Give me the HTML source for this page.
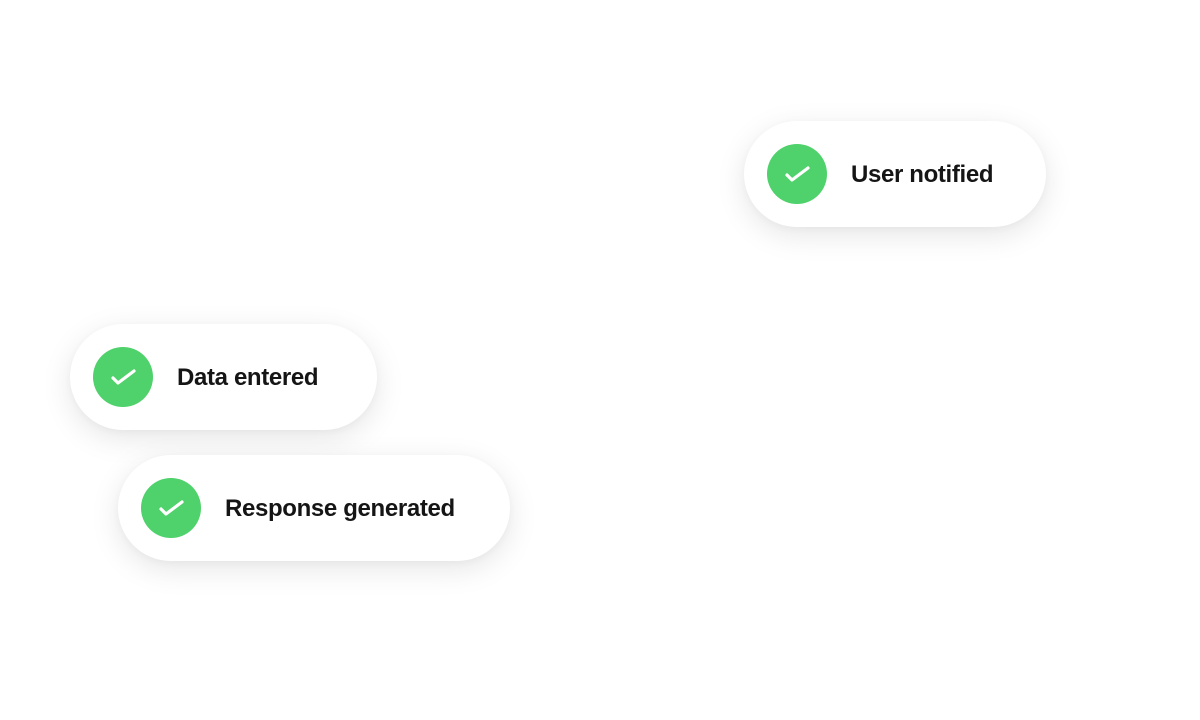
<!DOCTYPE html>
<html><head><style>
html,body{margin:0;padding:0;width:1200px;height:720px;background:#fff;overflow:hidden}
.pill{position:absolute;height:106px;border-radius:53px;background:#fff;box-shadow:0 8px 30px rgba(0,0,0,0.10),0 2px 8px rgba(0,0,0,0.03)}
.c{position:absolute;left:23px;top:23px;width:60px;height:60px;border-radius:50%;background:#4fd16b}
.c svg{position:absolute;left:0;top:0}
.t{position:absolute;left:107px;top:1px;line-height:106px;font-family:"Liberation Sans",sans-serif;font-weight:bold;font-size:24px;color:#151515;letter-spacing:-0.35px;white-space:nowrap}
</style></head><body>
<div class="pill" style="left:744px;top:121px;width:302px">
<div class="c"><svg width="60" height="60"><polyline points="20,31 25,36 41,24" fill="none" stroke="#fff" stroke-width="3.2" stroke-linecap="round" stroke-linejoin="round"/></svg></div>
<div class="t">User notified</div></div>
<div class="pill" style="left:70px;top:324px;width:307px">
<div class="c"><svg width="60" height="60"><polyline points="20,31 25,36 41,24" fill="none" stroke="#fff" stroke-width="3.2" stroke-linecap="round" stroke-linejoin="round"/></svg></div>
<div class="t">Data entered</div></div>
<div class="pill" style="left:118px;top:455px;width:392px">
<div class="c"><svg width="60" height="60"><polyline points="20,31 25,36 41,24" fill="none" stroke="#fff" stroke-width="3.2" stroke-linecap="round" stroke-linejoin="round"/></svg></div>
<div class="t">Response generated</div></div>
</body></html>
